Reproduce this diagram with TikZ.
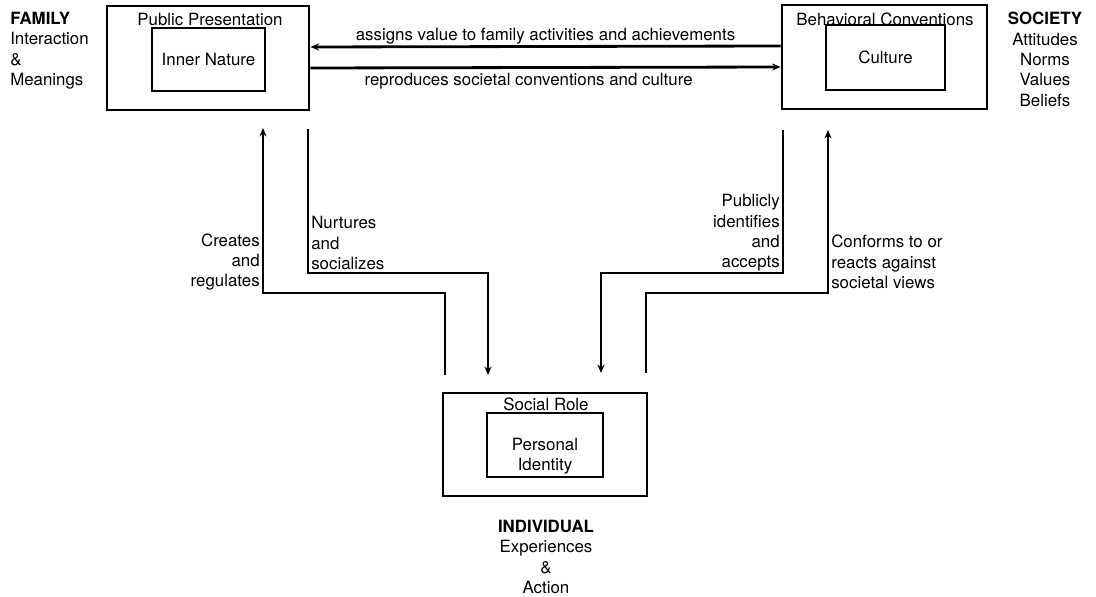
\documentclass[tikz,border=0pt]{standalone}
\usepackage{fontspec}
\setmainfont{TeX Gyre Heros}
\usetikzlibrary{arrows.meta}

\begin{document}
\begin{tikzpicture}[x=0.025cm,y=-0.025cm,font=\fontsize{12}{14.5}\selectfont]
   \tikzstyle{outer} = [rectangle, draw, line width=2pt, minimum width=5.05cm, minimum height=2.6cm, inner sep=0pt]
   \tikzstyle{inner} = [rectangle, draw, line width=2pt, minimum width=2.9cm, minimum height=1.6cm, inner sep=0pt, align=center]
   \tikzstyle{tag} = [inner sep=0pt]

   \useasboundingbox (0,0) rectangle (1096,597);

      \draw
        (208, 58) node[outer] (fam){}
        (208.5, 59.5) node[inner, minimum width=2.825cm, minimum height=1.575cm] (famin){Inner Nature}
        (210, 19) node[tag] (famtop){Public Presentation}
        (884.5, 57) node[outer, minimum width=5.125cm] (soc){}
        (885.5, 57.5) node[inner, minimum width=2.975cm, minimum height=1.625cm] (socin){Culture}
        (885, 19) node[tag] (soctop){Behavioral Conventions}
        (545, 444.5) node[outer, minimum width=5.1cm, minimum height=2.575cm] (ind){}
        (545, 445) node[inner] (indin){}
        (545, 456) node[tag, align=center] (indtxt){Personal\\Identity}
        (546, 404) node[tag] (indtop){Social Role};

      % group headings
      \draw
        (10, 12) node[tag, anchor=north west, align=left] (family){\textbf{FAMILY}\\Interaction\\\&\\Meanings}
        (1045, 12) node[tag, anchor=north, align=center] (society){\textbf{SOCIETY}\\Attitudes\\Norms\\Values\\Beliefs}
        (546, 520) node[tag, anchor=north, align=center] (individual){\textbf{INDIVIDUAL}\\Experiences\\\&\\Action};

      \coordinate (cr1) at (445,375); \coordinate (cr2) at (263,128);
      \coordinate (nu1) at (308,129); \coordinate (nu2) at (488,375);
      \coordinate (pu1) at (783,130); \coordinate (pu2) at (601,373);
      \coordinate (co1) at (646,373); \coordinate (co2) at (828,130);

  \begin{scope}[line width=2pt, -{Stealth[length=6pt,width=5pt]}]
    \draw ([yshift=0.275cm]soc.west) to node[midway, above=1pt, tag] {assigns value to family activities and achievements} ([yshift=0.275cm]fam.east);
    \draw ([yshift=-0.25cm]fam.east) to node[midway, below=3pt, xshift=-12, tag] {reproduces societal conventions and culture} ([yshift=-0.25cm]soc.west);
    \draw (cr1) -- ++(0,-82) -| (cr2);
    \draw (nu1) -- ++(0,144) -| (nu2);
    \draw (pu1) -- ++(0,143) -| (pu2);
    \draw (co1) -- ++(0,-80) -| (co2);
  \end{scope}

      \draw
        (260, 262) node[tag, anchor=east, align=right] (crtxt){Creates\\and\\regulates}
        (311, 243) node[tag, anchor=west, align=left] (nutxt){Nurtures\\and\\socializes}
        (780, 233) node[tag, anchor=east, align=right] (putxt){Publicly\\identifies\\and\\accepts}
        (831, 262) node[tag, anchor=west, align=left] (cotxt){Conforms to or\\reacts against\\societal views};
\end{tikzpicture}
\end{document}
